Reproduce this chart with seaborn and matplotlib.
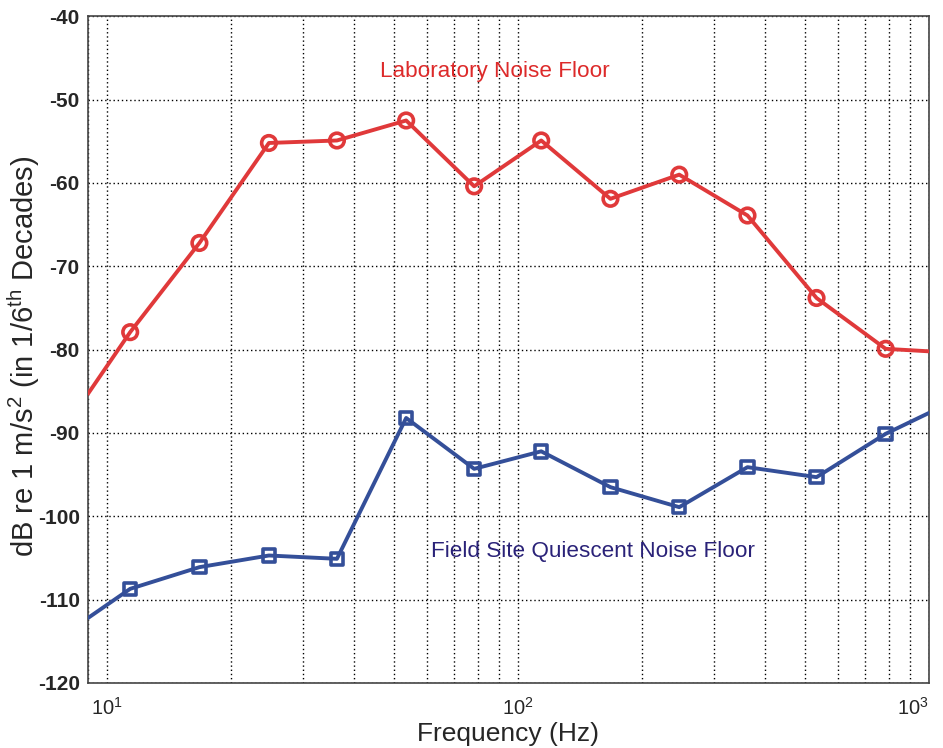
import matplotlib
matplotlib.use("Agg")
import matplotlib.pyplot as plt
from matplotlib.ticker import LogLocator, NullFormatter, FixedLocator
import seaborn as sns
import pandas as pd

# 1/6-decade band centres (Hz) where each band level is marked
band_freq = [11.4, 16.8, 24.8, 36.3, 53.5, 78.3, 114, 168, 247, 362, 533, 785]
lab_level = [-77.9, -67.2, -55.2, -54.9, -52.5, -60.4, -54.9, -61.9, -59.0, -63.9, -73.8, -79.9]
field_level = [-108.7, -106.1, -104.7, -105.1, -88.2, -94.3, -92.2, -96.5, -98.9, -94.1, -95.3, -90.1]

# curve continuation out to the axis limits
edge_freq = [9.0, 1000.0]
lab_edge = [-85.3, -80.2]
field_edge = [-112.2, -87.6]

x_limits = (9.0, 1000.0)
y_limits = (-120, -40)
y_ticks = [-120, -110, -100, -90, -80, -70, -60, -50, -40]
x_ticks = [10, 100, 1000]
x_tick_labels = [r"10$^{1}$", r"10$^{2}$", r"10$^{3}$"]

red = "#e0393a"
blue = "#344f99"

sns.set_style("white")
plt.rcParams["font.family"] = ["Liberation Sans", "DejaVu Sans"]
plt.rcParams["mathtext.fontset"] = "custom"
plt.rcParams["mathtext.rm"] = "Liberation Sans"
plt.rcParams["axes.unicode_minus"] = False

def full_curve(levels, edges):
    f = [edge_freq[0]] + band_freq + [edge_freq[1]]
    v = [edges[0]] + levels + [edges[1]]
    return pd.DataFrame({"freq": f, "level": v})

lab_curve = full_curve(lab_level, lab_edge)
field_curve = full_curve(field_level, field_edge)
lab_pts = pd.DataFrame({"freq": band_freq, "level": lab_level})
field_pts = pd.DataFrame({"freq": band_freq, "level": field_level})

fig = plt.figure(figsize=(9.43, 7.48), dpi=100)
ax = fig.add_axes([0.0933, 0.0869, 0.8917, 0.8913])
ax.set_xscale("log")

sns.lineplot(data=lab_curve, x="freq", y="level", ax=ax, color=red, lw=2.8,
             sort=False, estimator=None, zorder=3)
sns.lineplot(data=field_curve, x="freq", y="level", ax=ax, color=blue, lw=2.8,
             sort=False, estimator=None, zorder=3)
sns.scatterplot(data=lab_pts, x="freq", y="level", ax=ax, marker="o", s=110,
                facecolor="none", edgecolor=red, linewidth=2.6, zorder=4)
sns.scatterplot(data=field_pts, x="freq", y="level", ax=ax, marker="s", s=80,
                facecolor="none", edgecolor=blue, linewidth=2.6, zorder=4)

ax.set_xlim(*x_limits)
ax.set_ylim(*y_limits)
ax.yaxis.set_major_locator(FixedLocator(y_ticks))
ax.set_xticks(x_ticks, labels=x_tick_labels)
ax.xaxis.set_minor_locator(LogLocator(base=10, subs=range(2, 10)))
ax.xaxis.set_minor_formatter(NullFormatter())

ax.grid(True, which="major", axis="both", color="black", linestyle=(0, (1, 2)), lw=1.0)
ax.grid(True, which="minor", axis="x", color="black", linestyle=(0, (1, 2)), lw=1.0)
ax.set_axisbelow(True)

for s in ax.spines.values():
    s.set_color("#444444")
    s.set_linewidth(1.2)

ax.tick_params(axis="y", labelsize=15, length=4, direction="in", pad=6)
ax.tick_params(axis="x", which="major", labelsize=14.5, length=4, direction="in", pad=10)
ax.tick_params(axis="x", which="minor", length=2, direction="in")
for lbl in ax.get_yticklabels():
    lbl.set_fontweight("bold")
# the last decade label sits flush with the right spine
ax.get_xticklabels()[-1].set_horizontalalignment("right")

ax.set_xlabel("Frequency (Hz)", fontsize=19, labelpad=2)
ax.set_ylabel(r"dB re 1 m/s$^2$ (in 1/6$^{\mathrm{th}}$ Decades)", fontsize=21)
ax.yaxis.set_label_coords(-0.055, 0.49)

ax.text(87.9, -46.6, "Laboratory Noise Floor", color="#dd2a2a", fontsize=16.2,
        ha="center", va="center")
ax.text(152.5, -104.2, "Field Site Quiescent Noise Floor", color="#2a2278", fontsize=16.2,
        ha="center", va="center")

fig.savefig("out.png", dpi=100)
